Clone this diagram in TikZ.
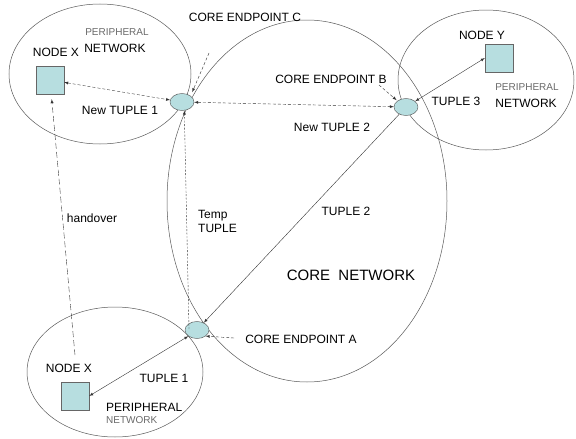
\documentclass[tikz,border=0pt]{standalone}
\usepackage{fontspec}
\setmainfont{Liberation Sans}
\usepackage{tikz}
\usetikzlibrary{calc,arrows,shapes.geometric}
\definecolor{boxfill}{RGB}{183,222,224}
\definecolor{txtgray}{RGB}{105,105,105}

\begin{document}
\begin{tikzpicture}[x=1pt,y=-1pt,>=latex,
    lbl/.style={inner sep=0pt,font=\fontsize{12}{14}\selectfont},
    small/.style={inner sep=0pt,text=txtgray,font=\fontsize{10}{12}\selectfont},
    endpt/.style={ellipse,draw=black!70,fill=boxfill,minimum width=24pt,minimum height=17pt,inner sep=0pt},
    hostbox/.style={rectangle,draw=black!60,fill=boxfill,minimum size=28pt,inner sep=0pt},
    net/.style={draw=black!65,line width=0.5pt}]
\useasboundingbox (0,0) rectangle (576,439);
% networks
\draw[net] (307,201) ellipse (140pt and 181pt);
\draw[net] (100,74) ellipse (91pt and 70pt);
\draw[net] (486,80) ellipse (88pt and 70pt);
\draw[net] (115,372) ellipse (88pt and 65pt);
% endpoints and hosts
\node[endpt] (epC) at (182,102) {};
\node[endpt] (epB) at (406,107) {};
\node[endpt] (epA) at (197,330) {};
\node[hostbox] (nodeXtop) at (50,80) {};
\node[hostbox] (nodeY) at (499,58) {};
\node[hostbox] (nodeXbot) at (75,396) {};
% texts
\node[lbl] (labXtop) at (56,52) {NODE X};
\node[small] (perTop) at (117,32) {PERIPHERAL};
\node[lbl] (netTop) at (115,48) {NETWORK};
\node[lbl] (newT1) at (120,110) {New TUPLE 1};
\node[lbl] (labC) at (245,17) {CORE ENDPOINT C};
\node[lbl] (labB) at (331,79) {CORE ENDPOINT B};
\node[lbl] (newT2) at (332,127) {New TUPLE 2};
\node[lbl] (t3) at (456,101) {TUPLE 3};
\node[small] (perRight) at (527,87) {PERIPHERAL};
\node[lbl] (netRight) at (526,103) {NETWORK};
\node[lbl] (labY) at (482,35) {NODE Y};
\node[lbl] (hand) at (92,218) {handover};
\node[lbl,anchor=west,align=left] (tempT) at (198,221) {Temp\\TUPLE};
\node[lbl] (t2) at (346,211) {TUPLE 2};
\node[inner sep=0pt,font=\fontsize{15}{18}\selectfont] (core) at (351,275) {CORE\ \ NETWORK};
\node[lbl] (labA) at (301,339) {CORE ENDPOINT A};
\node[lbl] (labXbot) at (69,368) {NODE X};
\node[lbl] (t1) at (164,378) {TUPLE 1};
\node[lbl,anchor=west] (perBot) at (106,407) {PERIPHERAL};
\node[small,anchor=west] (netBot) at (106,420) {NETWORK};
% pointers
\coordinate (cC) at (209,53);
\coordinate (cB) at (379,85);
\coordinate (cA) at (234,338);
\coordinate (tmpA) at (189,329);
\coordinate (hoA) at (75,355);
% connectors
\draw[<->,dashed,dash pattern=on 3pt off 2pt,black!80] (nodeXtop) -- (epC);
\draw[<->,dashed,dash pattern=on 3pt off 2pt,black!80] (epC) -- (epB);
\draw[->,dash pattern=on 3pt off 2pt,black!80,shorten >=4pt] (cC) -- (epC.north east);
\draw[->,dash pattern=on 3pt off 2pt,black!80,shorten >=1pt] (cB) -- (epB.north west);
\draw[->,dash pattern=on 3pt off 2pt,black!80] (cA) -- (epA.south east);
\draw[->,dash pattern=on 2pt off 1.5pt,black!80] (tmpA) -- (epC.-75);
\draw[->,dash pattern=on 6pt off 3pt,black!80,shorten >=5pt] (hoA) -- (nodeXtop);
\draw[->,black!80] (epB) -- (epA);
\draw[<->,black!80] (epB) -- (nodeY.west);
\draw[<->,black!80] (nodeXbot.east) -- (epA.south west);
\end{tikzpicture}
\end{document}
